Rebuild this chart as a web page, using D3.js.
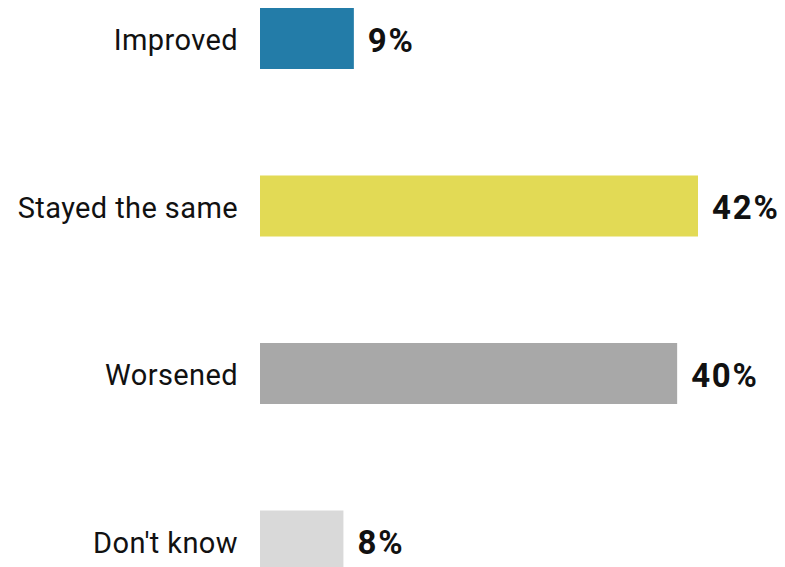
<!DOCTYPE html>
<html>
<head>
<meta charset="utf-8">
<script src="https://cdn.jsdelivr.net/npm/d3@7"></script>
<style>
  body { margin: 0; background: #fff; }
  svg { display: block; }
</style>
</head>
<body>
<div id="chart"></div>
<script>
const categories = ["Improved", "Stayed the same", "Worsened", "Don't know"];
const values = [9, 42, 40, 8];
const colors = ["#237ca8", "#e2da55", "#a8a8a8", "#d9d9d9"];

const width = 785, height = 567;

const svg = d3.select("#chart").append("svg")
    .attr("width", width)
    .attr("height", height);

// x scale: bars start at 260
const x = d3.scaleLinear()
    .domain([0, 42])
    .range([260, 698]);

const y = d3.scaleBand()
    .domain(categories)
    .range([8, 678]);

const barH = 61;

svg.selectAll("rect.bar")
    .data(values)
    .enter().append("rect")
    .attr("class", "bar")
    .attr("x", x(0))
    .attr("y", (d, i) => y(categories[i]))
    .attr("width", d => x(d) - x(0))
    .attr("height", barH)
    .attr("fill", (d, i) => colors[i]);

// category labels
svg.selectAll("text.cat")
    .data(categories)
    .enter().append("text")
    .attr("class", "cat")
    .attr("x", 238)
    .attr("y", d => y(d) + barH / 2 + 11.5)
    .attr("text-anchor", "end")
    .style("font-family", "Roboto, sans-serif")
    .style("font-size", "29px")
    .style("letter-spacing", "0.4px")
    .style("fill", "#111")
    .text(d => d);

// value labels
svg.selectAll("text.val")
    .data(values)
    .enter().append("text")
    .attr("class", "val")
    .attr("x", d => x(d) + 14)
    .attr("y", (d, i) => y(categories[i]) + barH / 2 + 13)
    .style("font-family", "Roboto, sans-serif")
    .style("font-weight", "bold")
    .style("font-size", "33px")
    .style("letter-spacing", "1.8px")
    .style("fill", "#111")
    .text(d => d + "%");
</script>
</body>
</html>
